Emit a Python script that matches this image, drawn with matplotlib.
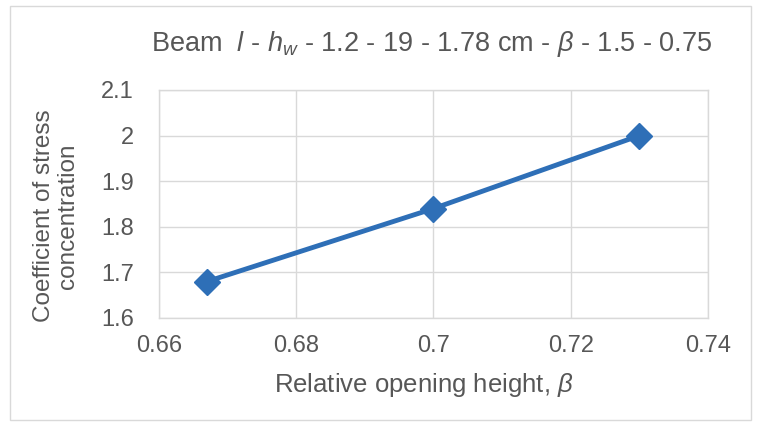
import matplotlib
matplotlib.use("Agg")
import matplotlib.pyplot as plt
from matplotlib.patches import Rectangle

beta = [0.667, 0.70, 0.73]
coef = [1.68, 1.84, 2.00]
x_ticks = [0.66, 0.68, 0.70, 0.72, 0.74]
x_labels = ["0.66", "0.68", "0.7", "0.72", "0.74"]
y_ticks = [1.6, 1.7, 1.8, 1.9, 2.0, 2.1]
y_labels = ["1.6", "1.7", "1.8", "1.9", "2", "2.1"]

plt.rcParams['font.family'] = ['Liberation Sans', 'DejaVu Sans']
plt.rcParams['mathtext.fontset'] = 'custom'
plt.rcParams['mathtext.rm'] = 'Liberation Sans'
plt.rcParams['mathtext.it'] = 'Liberation Sans:italic'

txt = '#575757'
grid = '#D9D9D9'
blue = '#2E6FB7'

fig = plt.figure(figsize=(7.57, 4.25), dpi=100)
fig.patches.append(Rectangle((10/757, 5/425), 741/757, 414/425, transform=fig.transFigure,
                             fill=False, edgecolor='#D9D9D9', linewidth=1))

ax = fig.add_axes([159/757, 107/425, 549/757, 228/425])
ax.plot(beta, coef, color=blue, linewidth=3.5, marker='D', markersize=13,
        markerfacecolor=blue, markeredgecolor=blue)

ax.set_xlim(0.66, 0.74)
ax.set_ylim(1.6, 2.1)
ax.set_xticks(x_ticks)
ax.set_xticklabels(x_labels)
ax.set_yticks(y_ticks)
ax.set_yticklabels(y_labels)
ax.tick_params(length=0, labelsize=17, colors=txt)
ax.tick_params(axis='x', pad=12)
ax.tick_params(axis='y', pad=18)
ax.grid(True, color=grid, linewidth=1)
ax.set_axisbelow(True)
for s in ax.spines.values():
    s.set_color(grid)
    s.set_linewidth(1)

fig.text(424/757, 1 - 385/425, r"Relative opening height, $\beta$", fontsize=18.5, color=txt,
         ha='center', va='center')
fig.text(56/757, 1 - 216/425, "Coefficient of stress\nconcentration", fontsize=17.5, color=txt,
         ha='center', va='center', rotation=90, linespacing=1.1)
fig.text(432/757, 1 - 44/425, r"Beam  $l$ - $h_w$ - 1.2 - 19 - 1.78 cm - $\beta$ - 1.5 - 0.75",
         fontsize=19.5, color=txt, ha='center', va='center')

fig.savefig('out.png', dpi=100)
